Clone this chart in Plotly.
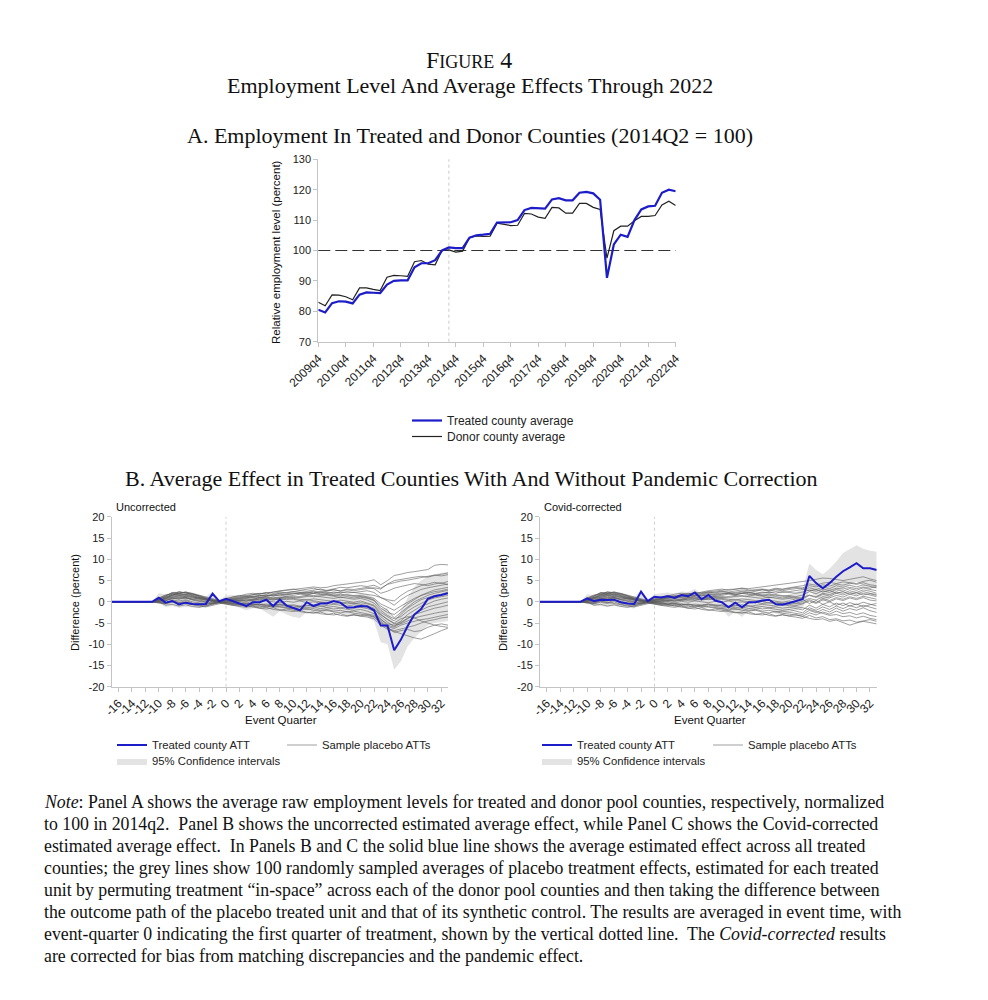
import plotly.graph_objects as go

W, H = 988, 1000


def px(x):
    return x / W


def py(y):
    return 1 - y / H


SANS = "Liberation Sans, Arial, Helvetica, sans-serif"
SERIF = "Liberation Serif, Times New Roman, serif"

# ---------------- Panel A data ----------------
QUARTERS = ["2009q4"] + [f"{yr}q{q}" for yr in range(2010, 2023) for q in (1, 2, 3, 4)]
A_TICKS = ["2009q4", "2010q4", "2011q4", "2012q4", "2013q4", "2014q4", "2015q4",
           "2016q4", "2017q4", "2018q4", "2019q4", "2020q4", "2021q4", "2022q4"]
A_YTICKS = [70, 80, 90, 100, 110, 120, 130]
TREAT_QUARTER = "2014q3"
BASELINE = 100

treated_avg = [80.5, 79.6, 82.7, 83.3, 83.2, 82.6, 85.5, 86.2, 86.1, 86.0,
               88.8, 90.0, 90.2, 90.2, 94.5, 95.8, 95.8, 96.8, 100.0, 101.0,
               100.8, 100.8, 104.2, 105.0, 105.2, 105.5, 109.2, 109.3, 109.3, 110.0,
               113.3, 114.0, 113.8, 113.8, 116.8, 117.2, 116.5, 116.5, 119.0, 119.3,
               118.8, 116.7, 91.0, 102.0, 105.2, 104.5, 110.0, 113.5, 114.5, 114.7,
               119.0, 120.0, 119.5]
donor_avg = [83.0, 81.8, 85.4, 85.3, 84.8, 83.8, 87.7, 87.7, 87.2, 86.8,
             91.2, 91.8, 91.7, 91.5, 96.3, 96.7, 95.5, 95.3, 100.0, 100.2,
             99.5, 99.8, 104.2, 104.8, 104.6, 104.7, 109.0, 108.7, 108.2, 108.3,
             112.2, 112.0, 111.0, 110.6, 114.2, 114.0, 112.3, 112.3, 115.5, 115.5,
             114.2, 113.5, 97.5, 106.5, 108.0, 108.0, 109.8, 111.2, 111.2, 111.5,
             115.0, 116.2, 114.8]

# ---------------- Panel B data ----------------
EVENT_Q = list(range(-17, 34))
B_XTICKS = list(range(-16, 33, 2))
B_YTICKS = [-20, -15, -10, -5, 0, 5, 10, 15, 20]
FLAT_PRE = [0.0, 0.0, 0.0, 0.0, 0.0, 0.0, 0.0]   # quarters -17..-11

att_uncorrected = [0, 0, 0, 0, 0, 0, 0,
                   0.95, -0.2, 0.2, -0.6, -0.2, -0.5, -0.6, -0.5, 1.9, 0.1,
                   0.7, 0.2, -0.4, -1.0, -0.1, -0.1, 0.5, -1.0, 0.5, -0.9,
                   -1.4, -2.0, -0.1, -1.0, -0.4, -0.4, 0.2, -0.2, -1.4, -1.3,
                   -1.0, -1.1, -2.0, -5.6, -5.6, -11.4, -8.9, -5.7, -3.0, -1.7,
                   0.7, 1.3, 1.6, 2.0]
att_corrected = [0, 0, 0, 0, 0, 0, 0,
                 0.8, 0.15, 0.5, 0.4, 0.5, -0.1, -0.4, -0.5, 2.4, 0.15,
                 1.2, 1.0, 1.3, 0.9, 1.6, 1.3, 2.2, 0.6, 1.6, 0.3,
                 -0.1, -1.3, -0.2, -1.3, -0.1, -0.1, 0.3, 0.5, -0.55, -0.7,
                 -0.3, 0.2, 0.6, 6.1, 4.4, 3.2, 4.4, 5.9, 7.2, 8.1,
                 9.1, 7.9, 7.9, 7.5]

ci_unc_lo = [0, 0, 0, 0, 0, 0, 0,
             -0.3, -1.2, -1.0, -1.4, -1.2, -1.3, -1.4, -1.3, -0.5, -0.3,
             -0.2, -0.8, -1.4, -2.0, -1.5, -1.6, -2.5, -3.5, -2.2, -3.0,
             -3.6, -3.8, -2.4, -2.8, -2.5, -2.6, -2.2, -2.6, -3.2, -3.3,
             -3.5, -3.6, -4.5, -9.5, -10.0, -16.0, -14.0, -10.5, -8.5, -7.0,
             -5.5, -5.0, -4.8, -4.5]
ci_unc_hi = [0, 0, 0, 0, 0, 0, 0,
             2.0, 1.8, 2.3, 2.5, 2.2, 1.9, 1.5, 1.2, 2.4, 0.5,
             1.5, 1.6, 1.4, 1.3, 1.8, 2.0, 2.3, 1.6, 2.4, 1.5,
             1.3, 1.2, 2.2, 1.6, 2.0, 2.1, 2.4, 2.2, 1.4, 1.6,
             1.9, 1.8, 1.0, -1.5, -1.5, -5.0, -2.0, 1.0, 3.5, 5.0,
             6.0, 6.5, 6.8, 7.0]
ci_cor_lo = [0, 0, 0, 0, 0, 0, 0,
             -0.5, -1.0, -1.0, -1.2, -1.0, -1.2, -1.5, -1.6, -0.2, -0.3,
             0.0, -0.3, -0.5, -0.6, -0.3, -0.5, -0.2, -1.2, -0.5, -1.3,
             -1.8, -3.5, -2.4, -3.6, -2.0, -2.2, -1.6, -1.6, -2.8, -3.0,
             -2.6, -2.0, -1.6, 2.5, 1.2, 0.0, 0.8, 2.2, 3.2, 4.0,
             4.8, 3.8, 3.4, 3.0]
ci_cor_hi = [0, 0, 0, 0, 0, 0, 0,
             1.8, 1.6, 2.2, 2.4, 2.0, 1.6, 1.2, 1.0, 2.8, 0.6,
             1.8, 2.0, 2.2, 1.9, 2.4, 2.3, 3.0, 1.8, 2.6, 1.6,
             1.4, 0.8, 1.6, 0.6, 1.6, 1.8, 2.2, 2.3, 1.4, 1.2,
             1.8, 2.3, 2.8, 9.0, 7.5, 6.5, 7.8, 9.5, 11.5, 12.5,
             13.3, 12.5, 12.0, 11.8]

# sample placebo ATTs, quarters -10..33 (uncorrected)
placebo_unc = [
    [0.8, 1.5, 2.0, 2.3, 2.1, 1.8, 1.2, 0.9, 0.6, 0.2, 0.5, 0.9, 1.2, 1.5, 1.7, 1.9, 2.1, 2.2, 2.4, 2.6,
     2.9, 3.1, 3.3, 3.5, 3.3, 3.4, 3.8, 4.0, 4.2, 4.4, 4.6, 4.8, 5.2, 4.0, 5.0, 6.2, 6.5, 6.9, 7.1, 7.3,
     7.6, 8.6, 8.8, 8.7],
    [0.5, 1.2, 1.6, 1.9, 2.2, 1.5, 1.0, 0.8, 0.3, 0.1, 0.3, 0.6, 0.8, 1.0, 1.3, 1.5, 1.4, 1.8, 2.0, 2.2,
     2.4, 2.6, 2.5, 2.8, 3.0, 2.7, 3.1, 3.4, 3.3, 3.6, 3.8, 3.6, 3.9, 3.2, 4.1, 4.5, 4.9, 5.1, 5.4, 5.8,
     6.0, 6.3, 6.1, 6.4],
    [0.3, 0.9, 1.4, 2.4, 2.0, 1.7, 1.4, 0.6, 0.4, -0.1, 0.2, 0.4, 0.7, 0.9, 1.2, 1.0, 1.3, 1.6, 1.4, 1.7,
     1.9, 2.1, 2.3, 2.0, 2.4, 2.2, 2.0, 2.3, 2.1, 2.2, 2.0, 1.8, 1.5, 1.0, 0.5, 0.2, 1.5, 2.5, 3.2, 3.8,
     4.2, 4.6, 4.3, 4.8],
    [0.6, 1.0, 1.8, 1.6, 1.5, 1.3, 0.7, 0.5, 0.1, 0.3, 0.0, 0.2, 0.5, 0.4, 0.7, 0.9, 1.1, 0.8, 1.0, 1.2,
     1.0, 1.3, 1.5, 1.2, 1.4, 1.6, 1.3, 1.0, 1.2, 0.9, 1.1, 0.8, 0.3, -1.5, -2.5, -3.0, -1.8, -0.5, 0.5, 1.5,
     2.2, 2.8, 3.1, 3.4],
    [0.2, 0.6, 1.1, 1.3, 1.0, 0.8, 0.4, 0.2, -0.2, 0.0, -0.2, 0.1, 0.3, 0.2, 0.5, 0.3, 0.6, 0.4, 0.7, 0.5,
     0.8, 0.6, 0.4, 0.7, 0.5, 0.3, 0.1, 0.4, 0.2, -0.1, 0.2, -0.3, -0.8, -2.5, -3.5, -4.5, -3.0, -1.5, -0.5, 0.5,
     1.0, 1.5, 1.8, 2.3],
    [0.4, 0.3, 0.8, 0.6, 0.9, 0.5, 0.2, 0.0, -0.3, 0.1, 0.1, -0.2, 0.0, -0.3, 0.1, -0.1, 0.2, 0.0, -0.2, 0.1,
     -0.1, 0.2, -0.2, 0.0, -0.3, -0.1, -0.4, -0.2, -0.5, -0.3, -0.6, -0.9, -1.5, -3.5, -4.8, -5.8, -4.5, -3.0, -2.0, -1.0,
     -0.5, 0.2, 0.6, 0.9],
    [0.1, -0.3, 0.4, 0.2, 0.5, 0.0, -0.3, -0.5, -0.4, 0.0, -0.3, -0.5, -0.3, -0.6, -0.4, -0.7, -0.5, -0.8, -0.6, -0.9,
     -0.7, -1.0, -0.8, -1.1, -0.9, -1.3, -1.1, -1.4, -1.2, -1.5, -1.3, -1.6, -2.2, -4.0, -5.5, -6.0, -5.0, -4.0, -3.0, -2.5,
     -2.0, -1.5, -1.2, -0.8],
    [-0.2, -0.5, -0.1, -0.4, 0.0, -0.6, -0.8, -1.0, -0.6, -0.2, -0.4, -0.6, -0.9, -0.7, -1.0, -1.2, -0.9, -1.3, -1.1, -1.4,
     -1.6, -1.4, -1.8, -1.6, -2.0, -1.8, -2.2, -2.0, -2.4, -2.2, -2.5, -2.8, -3.2, -4.5, -5.8, -6.3, -5.5, -5.0, -4.6, -4.2,
     -4.0, -3.6, -3.3, -3.0],
    [0.0, -0.8, -0.6, -1.0, -0.7, -1.1, -1.3, -0.9, -0.5, -0.3, -0.6, -0.9, -1.1, -1.3, -1.0, -1.5, -1.7, -1.4, -1.9, -2.1,
     -2.3, -2.0, -2.5, -2.7, -2.4, -2.9, -3.1, -2.8, -3.3, -3.0, -3.4, -3.6, -4.0, -5.5, -6.5, -7.0, -7.5, -8.0, -8.5, -8.8,
     -8.2, -7.5, -6.8, -6.2],
    [0.7, 1.3, 2.2, 2.0, 1.7, 1.9, 1.5, 1.0, 0.5, 0.2, 0.6, 1.1, 1.4, 1.8, 2.0, 1.8, 2.2, 2.0, 2.3, 2.1,
     2.4, 2.2, 2.0, 2.3, 1.9, 1.7, 1.5, 1.8, 1.6, 1.3, 1.5, 1.2, 0.8, -0.5, -1.2, -2.0, -1.0, 0.0, 0.8, 1.5,
     2.0, 2.4, 2.6, 3.0],
    [-0.3, -0.2, 0.2, -0.1, -0.5, -0.8, -1.0, -1.2, -0.8, -0.4, -0.1, -0.4, -0.6, -0.4, -0.8, -0.6, -1.0, -0.8, -0.5, -0.7,
     -0.9, -1.2, -1.0, -0.7, -1.1, -0.9, -0.6, -0.8, -1.0, -0.7, -0.9, -1.2, -1.8, -3.0, -4.2, -5.0, -4.0, -3.5, -3.8, -4.5,
     -5.0, -5.5, -5.8, -6.0],
    [0.9, 1.6, 1.8, 2.1, 2.3, 2.0, 1.6, 1.1, 0.7, 0.3, 0.8, 1.2, 1.5, 1.3, 1.7, 2.0, 1.8, 2.3, 2.6, 2.8,
     3.0, 2.7, 2.9, 3.2, 2.8, 2.6, 2.9, 2.5, 2.8, 2.6, 2.9, 3.1, 3.3, 3.0, 4.2, 5.0, 5.3, 5.5, 5.8, 6.0,
     5.8, 6.2, 6.5, 6.8],
    [0.0, 0.3, 0.7, 1.0, 0.8, 0.6, 0.9, 0.4, 0.2, -0.2, -0.5, -0.8, -0.6, -1.0, -1.2, -1.5, -1.3, -1.8, -2.0, -1.7,
     -2.0, -2.3, -2.6, -2.4, -2.8, -3.0, -2.7, -3.2, -3.4, -3.1, -3.3, -3.0, -3.5, -4.8, -6.0, -7.2, -6.8, -6.5, -7.0, -6.8,
     -6.0, -5.5, -5.2, -5.5],
    [0.5, 0.8, 1.2, 0.9, 1.3, 1.1, 0.8, 0.6, 0.3, 0.0, 0.3, 0.5, 0.4, 0.8, 0.6, 1.0, 0.8, 1.1, 0.9, 1.3,
     1.5, 1.8, 1.6, 2.0, 2.2, 2.5, 2.8, 2.6, 3.0, 2.9, 3.2, 3.4, 3.1, 2.0, 2.5, 3.2, 3.6, 4.0, 4.3, 4.1,
     3.8, 4.2, 4.5, 4.0],
    [0.6, 1.4, 2.1, 2.0, 2.3, 1.9, 1.3, 0.8, 0.4, 0.1, 0.4, 0.8, 1.0, 1.3, 1.1, 1.5, 1.3, 1.6, 1.9, 1.7,
     1.9, 2.1, 1.8, 2.0, 1.7, 1.9, 1.6, 1.4, 1.7, 1.5, 1.2, 1.0, 0.4, -1.0, -2.0, -3.8, -2.5, -1.2, 0.0, 0.8,
     1.5, 2.0, 2.4, 2.7],
    [0.4, 1.0, 1.5, 1.8, 1.6, 1.2, 0.9, 0.5, 0.2, 0.0, 0.2, 0.0, 0.3, 0.1, 0.4, 0.6, 0.3, 0.7, 0.5, 0.8,
     0.6, 0.3, 0.5, 0.2, 0.0, -0.2, 0.1, -0.3, -0.1, -0.4, -0.2, -0.5, -1.0, -3.0, -4.2, -5.2, -4.8, -3.8, -3.0, -2.0,
     -1.2, -0.8, -0.4, 0.0],
    [0.2, 0.7, 1.6, 1.4, 1.8, 1.4, 1.1, 0.7, 0.0, -0.2, -0.1, 0.3, 0.1, 0.5, 0.3, 0.7, 0.9, 0.6, 0.8, 1.0,
     1.2, 1.0, 1.3, 1.5, 1.2, 1.0, 0.8, 1.1, 0.8, 0.6, 0.8, 0.4, -0.3, -2.0, -3.2, -4.0, -3.5, -2.2, -1.2, -0.3,
     0.4, 0.9, 1.2, 1.5],
    [-0.1, 0.2, 0.9, 0.7, 1.1, 0.4, 0.1, -0.3, -0.5, -0.1, -0.3, -0.2, -0.5, -0.3, -0.7, -0.5, -0.8, -1.0, -0.8, -1.1,
     -1.3, -1.1, -1.4, -1.2, -1.6, -1.4, -1.7, -1.5, -1.8, -2.0, -1.8, -2.2, -2.8, -4.2, -5.2, -5.5, -5.2, -4.5, -3.8, -3.4,
     -3.0, -2.7, -2.4, -2.2],
    [0.3, 0.5, 1.0, 1.5, 1.2, 1.0, 0.6, 0.3, 0.1, 0.2, 0.4, 0.7, 0.9, 1.2, 1.0, 1.3, 1.6, 1.4, 1.7, 1.9,
     2.1, 1.9, 2.2, 2.5, 2.3, 2.0, 2.3, 2.1, 2.4, 2.2, 2.4, 2.6, 2.2, 1.0, 0.2, -0.8, 0.5, 1.5, 2.2, 2.9,
     3.3, 3.6, 3.9, 4.2],
    [-0.1, -0.4, 0.1, -0.2, 0.3, -0.3, -0.5, -0.7, -0.3, 0.0, -0.2, -0.4, -0.7, -0.9, -0.6, -0.9, -1.2, -1.0, -1.3, -1.5,
     -1.7, -1.9, -1.6, -2.0, -2.2, -2.0, -2.4, -2.6, -2.3, -2.7, -2.9, -3.2, -3.6, -5.0, -6.2, -6.8, -6.4, -6.0, -5.6, -5.0,
     -4.5, -4.2, -3.8, -3.6],
]

# sample placebo ATTs, quarters -10..33 (Covid-corrected)
placebo_cor = [
    [0.8, 1.4, 2.0, 2.2, 2.0, 1.7, 1.2, 0.9, 0.5, 0.2, 0.6, 0.9, 1.1, 1.4, 1.6, 1.8, 2.0, 2.2, 2.4, 2.5,
     2.7, 2.9, 3.0, 3.2, 3.1, 3.3, 3.5, 3.8, 4.0, 4.2, 4.3, 4.5, 4.7, 5.0, 5.3, 5.6, 5.5, 5.2, 5.0, 5.3,
     5.6, 5.9, 5.4, 5.0],
    [0.5, 1.1, 1.6, 2.4, 2.1, 1.5, 1.0, 0.7, 0.3, 0.1, 0.3, 0.6, 0.9, 1.1, 1.4, 1.6, 1.5, 1.9, 2.1, 2.3,
     2.5, 2.3, 2.6, 2.8, 2.6, 2.9, 3.0, 2.8, 3.2, 3.0, 3.3, 3.5, 3.8, 4.2, 3.9, 4.4, 4.6, 4.3, 4.7, 4.5,
     4.3, 4.8, 5.1, 4.6],
    [0.3, 0.9, 1.3, 1.7, 2.2, 1.8, 1.4, 0.6, 0.4, -0.1, 0.2, 0.5, 0.8, 1.0, 1.2, 1.0, 1.4, 1.6, 1.3, 1.5,
     1.8, 2.0, 1.7, 1.9, 2.2, 1.9, 2.1, 2.3, 2.0, 2.4, 2.2, 2.0, 2.3, 2.8, 2.5, 3.0, 2.7, 3.2, 3.0, 3.4,
     3.1, 3.5, 3.2, 3.6],
    [0.6, 1.0, 1.8, 1.6, 1.5, 1.3, 0.7, 0.5, 0.1, 0.3, 0.0, 0.2, 0.5, 0.4, 0.7, 0.9, 1.1, 0.8, 1.0, 1.2,
     1.0, 1.3, 1.5, 1.2, 1.4, 1.6, 1.3, 1.0, 1.2, 0.9, 1.1, 0.8, 1.0, 1.6, 1.2, 2.0, 1.7, 2.3, 2.0, 2.6,
     2.2, 2.8, 2.5, 2.0],
    [0.2, 0.6, 1.1, 1.3, 1.0, 0.8, 0.4, 0.2, -0.2, 0.0, -0.2, 0.1, 0.3, 0.2, 0.5, 0.3, 0.6, 0.4, 0.7, 0.5,
     0.8, 0.6, 0.4, 0.7, 0.5, 0.3, 0.1, 0.4, 0.2, -0.1, 0.2, -0.3, 0.1, 0.8, 0.4, 1.2, 0.9, 1.5, 1.1, 1.8,
     1.4, 2.0, 1.6, 1.2],
    [0.4, 0.3, 0.8, 0.6, 0.9, 0.5, 0.2, 0.0, -0.3, 0.1, 0.1, -0.2, 0.0, -0.3, 0.1, -0.1, 0.2, 0.0, -0.2, 0.1,
     -0.1, 0.2, -0.2, 0.0, -0.3, -0.1, -0.4, -0.2, -0.5, -0.3, -0.6, -0.9, -0.5, 0.2, -0.4, 0.5, 0.0, 0.7, 0.3, 0.9,
     0.5, 1.0, 0.4, 0.2],
    [0.1, -0.3, 0.4, 0.2, 0.5, 0.0, -0.3, -0.5, -0.4, 0.0, -0.3, -0.5, -0.3, -0.6, -0.4, -0.7, -0.5, -0.8, -0.6, -0.9,
     -0.7, -1.0, -0.8, -1.1, -0.9, -1.3, -1.1, -1.4, -1.2, -1.5, -1.3, -1.6, -1.9, -0.8, -1.5, -0.6, -1.2, -0.3, -0.9, -0.2,
     -0.7, -0.1, -0.6, -1.0],
    [-0.2, -0.5, -0.1, -0.4, 0.0, -0.6, -0.8, -1.0, -0.6, -0.2, -0.4, -0.6, -0.9, -0.7, -1.0, -1.2, -0.9, -1.3, -1.1, -1.4,
     -1.6, -1.4, -1.8, -1.6, -2.0, -1.8, -2.2, -2.0, -2.4, -2.2, -2.5, -2.8, -3.0, -2.0, -2.6, -1.8, -2.4, -1.5, -2.2, -1.6,
     -2.0, -1.4, -2.1, -2.5],
    [0.0, -0.8, -0.6, -1.0, -0.7, -1.1, -1.3, -0.9, -0.5, -0.3, -0.6, -0.9, -1.1, -1.3, -1.0, -1.5, -1.7, -1.4, -1.9, -2.1,
     -2.3, -2.0, -2.5, -2.7, -2.4, -2.9, -3.1, -2.8, -3.3, -3.0, -3.4, -3.6, -3.9, -3.2, -3.8, -3.5, -4.2, -4.0, -4.5, -4.3,
     -4.8, -4.5, -4.2, -4.6],
    [0.7, 1.3, 2.2, 2.0, 1.7, 1.9, 1.5, 1.0, 0.5, 0.2, 0.6, 1.1, 1.4, 1.8, 2.0, 1.8, 2.2, 2.0, 2.3, 2.1,
     2.4, 2.2, 2.0, 2.3, 1.9, 1.7, 1.5, 1.8, 1.6, 1.3, 1.5, 1.2, 1.6, 2.4, 1.9, 2.6, 2.2, 2.9, 2.5, 3.1,
     2.7, 3.3, 2.9, 2.6],
    [-0.3, -0.2, 0.2, -0.1, -0.5, -0.8, -1.0, -1.2, -0.8, -0.4, -0.1, -0.4, -0.6, -0.4, -0.8, -0.6, -1.0, -0.8, -0.5, -0.7,
     -0.9, -1.2, -1.0, -0.7, -1.1, -0.9, -0.6, -0.8, -1.0, -0.7, -0.9, -1.2, -1.4, -1.8, -2.3, -2.8, -3.2, -3.0, -3.5, -3.3,
     -3.8, -3.4, -3.9, -4.2],
    [0.9, 1.6, 1.8, 2.1, 2.3, 2.0, 1.6, 1.1, 0.7, 0.3, 0.8, 1.2, 1.5, 1.3, 1.7, 2.0, 1.8, 2.3, 2.6, 2.8,
     3.0, 2.7, 2.9, 3.2, 2.8, 2.6, 2.9, 2.5, 2.8, 2.6, 2.9, 3.1, 3.3, 3.8, 3.5, 4.0, 3.7, 4.2, 3.9, 4.4,
     4.1, 4.5, 4.0, 3.8],
    [0.0, 0.3, 0.7, 1.0, 0.8, 0.6, 0.9, 0.4, 0.2, -0.2, -0.5, -0.8, -0.6, -1.0, -1.2, -1.5, -1.3, -1.8, -2.0, -1.7,
     -2.0, -2.3, -2.6, -2.4, -2.8, -3.0, -2.7, -3.2, -3.4, -3.1, -3.3, -3.0, -3.5, -3.9, -4.2, -4.0, -4.6, -4.3, -4.9, -5.5,
     -5.0, -4.6, -4.9, -5.2],
    [0.5, 0.8, 1.2, 0.9, 1.3, 1.1, 0.8, 0.6, 0.3, 0.0, 0.3, 0.5, 0.4, 0.8, 0.6, 1.0, 0.8, 1.1, 0.9, 1.3,
     1.5, 1.8, 1.6, 2.0, 2.2, 2.5, 2.8, 2.6, 3.0, 2.9, 3.2, 3.4, 3.1, 2.6, 2.9, 2.3, 2.7, 2.0, 2.4, 1.8,
     2.2, 1.6, 1.9, 1.5],
    [0.6, 1.4, 2.1, 2.0, 2.3, 1.9, 1.3, 0.8, 0.4, 0.1, 0.4, 0.8, 1.0, 1.3, 1.1, 1.5, 1.3, 1.6, 1.9, 1.7,
     1.9, 2.1, 1.8, 2.0, 1.7, 1.9, 1.6, 1.4, 1.7, 1.5, 1.2, 1.0, 0.7, 1.5, 1.0, 1.8, 1.3, 2.0, 1.6, 2.2,
     1.8, 2.4, 2.0, 1.7],
    [0.4, 1.0, 1.5, 1.8, 1.6, 1.2, 0.9, 0.5, 0.2, 0.0, 0.2, 0.0, 0.3, 0.1, 0.4, 0.6, 0.3, 0.7, 0.5, 0.8,
     0.6, 0.3, 0.5, 0.2, 0.0, -0.2, 0.1, -0.3, -0.1, -0.4, -0.2, -0.5, -0.3, 0.5, -0.2, 0.8, 0.3, 1.0, 0.6, 1.2,
     0.8, 1.3, 0.9, 0.6],
    [0.2, 0.7, 1.6, 1.4, 1.8, 1.4, 1.1, 0.7, 0.0, -0.2, -0.1, 0.3, 0.1, 0.5, 0.3, 0.7, 0.9, 0.6, 0.8, 1.0,
     1.2, 1.0, 1.3, 1.5, 1.2, 1.0, 0.8, 1.1, 0.8, 0.6, 0.8, 0.4, 0.6, -0.4, 0.3, -0.6, 0.0, -0.8, -0.3, -1.0,
     -0.5, -1.2, -0.7, -0.4],
    [-0.1, 0.2, 0.9, 0.7, 1.1, 0.4, 0.1, -0.3, -0.5, -0.1, -0.3, -0.2, -0.5, -0.3, -0.7, -0.5, -0.8, -1.0, -0.8, -1.1,
     -1.3, -1.1, -1.4, -1.2, -1.6, -1.4, -1.7, -1.5, -1.8, -2.0, -1.8, -2.2, -2.6, -1.4, -2.0, -1.2, -1.8, -1.0, -1.6, -0.9,
     -1.4, -0.8, -1.3, -1.7],
    [0.3, 0.5, 1.0, 1.5, 1.2, 1.0, 0.6, 0.3, 0.1, 0.2, 0.4, 0.7, 0.9, 1.2, 1.0, 1.3, 1.6, 1.4, 1.7, 1.9,
     2.1, 1.9, 2.2, 2.5, 2.3, 2.0, 2.3, 2.1, 2.4, 2.2, 2.4, 2.6, 2.9, 3.3, 2.9, 3.5, 3.1, 3.8, 3.4, 3.9,
     3.5, 4.0, 3.6, 3.3],
    [-0.1, -0.4, 0.1, -0.2, 0.3, -0.3, -0.5, -0.7, -0.3, 0.0, -0.2, -0.4, -0.7, -0.9, -0.6, -0.9, -1.2, -1.0, -1.3, -1.5,
     -1.7, -1.9, -1.6, -2.0, -2.2, -2.0, -2.4, -2.6, -2.3, -2.7, -2.9, -3.2, -3.4, -2.6, -3.1, -2.4, -2.9, -2.2, -2.8, -2.5,
     -3.0, -2.6, -3.2, -3.5],
]

BLUE = "#1c1cc8"
PLACEBO_COL = "rgba(90,90,90,0.65)"
CI_COL = "#e3e3e3"
AXIS_COL = "#c4c4c4"

fig = go.Figure()

# ---------------- Panel A traces ----------------
fig.add_trace(go.Scatter(x=QUARTERS, y=donor_avg, mode="lines", name="Donor county average",
                         line=dict(color="#222222", width=1.2), xaxis="x", yaxis="y",
                         legend="legend6"))
fig.add_trace(go.Scatter(x=QUARTERS, y=treated_avg, mode="lines", name="Treated county average",
                         line=dict(color=BLUE, width=2.2), xaxis="x", yaxis="y",
                         legend="legend"))


# ---------------- Panel B traces ----------------
def add_panel(ax, ay, att, lo, hi, placebos, leg_top, leg_bot):
    fig.add_trace(go.Scatter(x=EVENT_Q, y=lo, mode="lines", line=dict(width=0, color=CI_COL),
                             showlegend=False, hoverinfo="skip", xaxis=ax, yaxis=ay))
    fig.add_trace(go.Scatter(x=EVENT_Q, y=hi, mode="lines", line=dict(width=0, color=CI_COL),
                             fill="tonexty", fillcolor=CI_COL, name="95% Confidence intervals",
                             xaxis=ax, yaxis=ay, legend=leg_bot))
    for i, p in enumerate(placebos):
        fig.add_trace(go.Scatter(x=EVENT_Q, y=FLAT_PRE + p, mode="lines",
                                 line=dict(color=PLACEBO_COL, width=0.9),
                                 name="Sample placebo ATTs", showlegend=(i == 0),
                                 legendrank=2, xaxis=ax, yaxis=ay, legend=leg_top))
    fig.add_trace(go.Scatter(x=EVENT_Q, y=att, mode="lines", name="Treated county ATT",
                             line=dict(color=BLUE, width=2), legendrank=1,
                             xaxis=ax, yaxis=ay, legend=leg_top))


add_panel("x2", "y2", att_uncorrected, ci_unc_lo, ci_unc_hi, placebo_unc, "legend2", "legend3")
add_panel("x3", "y3", att_corrected, ci_cor_lo, ci_cor_hi, placebo_cor, "legend4", "legend5")

# ---------------- axes ----------------
tickfont = dict(family=SANS, size=11, color="#222222")
xtickfont = dict(family=SANS, size=12, color="#222222")
common = dict(showline=True, linecolor=AXIS_COL, linewidth=1, ticks="outside", ticklen=4,
              tickcolor=AXIS_COL, showgrid=False, zeroline=False, automargin=False)

ADOM = [px(318.3), px(675.7)]
ADOMY = [py(341.7), py(159.3)]
BL = [px(111.7), px(448.0)]
BR = [px(540.0), px(876.7)]
BDOMY = [py(686.7), py(516.9)]

fig.update_layout(
    xaxis=dict(domain=ADOM, anchor="y", type="category", range=[0, len(QUARTERS) - 1],
               tickmode="array", tickvals=A_TICKS, ticktext=A_TICKS, tickangle=-45,
               tickfont=xtickfont, **common),
    yaxis=dict(domain=ADOMY, anchor="x", range=[70, 130], tickvals=A_YTICKS,
               ticktext=[str(v) for v in A_YTICKS], tickfont=tickfont, **common),
    xaxis2=dict(domain=BL, anchor="y2", range=[-17, 33], tickvals=B_XTICKS,
                ticktext=[str(v) for v in B_XTICKS], tickangle=-45, tickfont=xtickfont, **common),
    yaxis2=dict(domain=BDOMY, anchor="x2", range=[-20, 20], tickvals=B_YTICKS,
                ticktext=[str(v) for v in B_YTICKS], tickfont=tickfont, **common),
    xaxis3=dict(domain=BR, anchor="y3", range=[-17, 33], tickvals=B_XTICKS,
                ticktext=[str(v) for v in B_XTICKS], tickangle=-45, tickfont=xtickfont, **common),
    yaxis3=dict(domain=BDOMY, anchor="x3", range=[-20, 20], tickvals=B_YTICKS,
                ticktext=[str(v) for v in B_YTICKS], tickfont=tickfont, **common),
)

# reference lines
treat_idx = QUARTERS.index(TREAT_QUARTER)
fig.add_shape(type="line", xref="x domain", yref="y", x0=0, x1=1, y0=BASELINE, y1=BASELINE,
              line=dict(color="#333333", width=1.2, dash="12px,5px"), layer="below")
fig.add_shape(type="line", xref="x", yref="y domain", x0=treat_idx, x1=treat_idx, y0=0, y1=1,
              line=dict(color="#c8c8c8", width=1, dash="dot"), layer="below")
for xr, yr in (("x2", "y2 domain"), ("x3", "y3 domain")):
    fig.add_shape(type="line", xref=xr, yref=yr, x0=0, x1=0, y0=0, y1=1,
                  line=dict(color="#d0d0d0", width=1, dash="dot"), layer="below")

# ---------------- legends ----------------
base_leg = dict(bgcolor="rgba(0,0,0,0)", borderwidth=0, itemwidth=30,
                xanchor="left", yanchor="top", tracegroupgap=0, traceorder="normal")
fontA = dict(family=SANS, size=12, color="#222222")
fontB = dict(family=SANS, size=11.3, color="#222222")
fig.update_layout(
    showlegend=True,
    legend=dict(x=px(407), y=py(406), font=fontA, **base_leg),
    legend6=dict(x=px(407), y=py(422), font=fontA, **base_leg),
    legend2=dict(x=px(112), y=py(730.5), orientation="h", entrywidth=125,
                 entrywidthmode="pixels", font=fontB, **base_leg),
    legend3=dict(x=px(112), y=py(746.5), orientation="h", font=fontB, **base_leg),
    legend4=dict(x=px(537), y=py(730.5), orientation="h", entrywidth=126,
                 entrywidthmode="pixels", font=fontB, **base_leg),
    legend5=dict(x=px(537), y=py(746.5), orientation="h", font=fontB, **base_leg),
)

# ---------------- text ----------------
ann = []


def text(x, y, s, size, family=SERIF, anchor="center", angle=0, color="#111111"):
    ann.append(dict(x=px(x), y=py(y), xref="paper", yref="paper", text=s, showarrow=False,
                    xanchor=anchor, yanchor="middle", textangle=angle,
                    font=dict(family=family, size=size, color=color)))


text(469, 60, 'F<span style="font-size:18px">IGURE</span> 4', 24)
text(470, 86, "Employment Level And Average Effects Through 2022", 22)
text(470, 135, "A. Employment In Treated and Donor Counties (2014Q2 = 100)", 22)
text(471, 478, "B. Average Effect in Treated Counties With And Without Pandemic Correction", 22)

text(276, 252, "Relative employment level (percent)", 11.5, family=SANS, angle=-90)
text(75, 603, "Difference (percent)", 11, family=SANS, angle=-90)
text(503, 603, "Difference (percent)", 11, family=SANS, angle=-90)
text(281, 720, "Event Quarter", 11.5, family=SANS)
text(710, 720, "Event Quarter", 11.5, family=SANS)
text(114, 507, "Uncorrected", 11, family=SANS, anchor="left")
text(542, 507, "Covid-corrected", 11, family=SANS, anchor="left")

NOTE_LINES = [
    "<i>Note</i>: Panel A shows the average raw employment levels for treated and donor pool counties, respectively, normalized",
    "to 100 in 2014q2.  Panel B shows the uncorrected estimated average effect, while Panel C shows the Covid-corrected",
    "estimated average effect.  In Panels B and C the solid blue line shows the average estimated effect across all treated",
    "counties; the grey lines show 100 randomly sampled averages of placebo treatment effects, estimated for each treated",
    "unit by permuting treatment \u201cin-space\u201d across each of the donor pool counties and then taking the difference between",
    "the outcome path of the placebo treated unit and that of its synthetic control. The results are averaged in event time, with",
    "event-quarter 0 indicating the first quarter of treatment, shown by the vertical dotted line.  The <i>Covid-corrected</i> results",
    "are corrected for bias from matching discrepancies and the pandemic effect.",
]
for i, line in enumerate(NOTE_LINES):
    text(42, 802 + 22 * i, line, 17.8, anchor="left")

fig.update_layout(annotations=ann, width=W, height=H,
                  margin=dict(l=0, r=0, t=0, b=0, pad=0, autoexpand=False),
                  paper_bgcolor="white", plot_bgcolor="white",
                  font=dict(family=SANS, color="#222222"))

fig.write_html("out.html", config={"displayModeBar": False},
               post_script="document.body.style.margin='0';document.body.style.overflow='hidden';")
